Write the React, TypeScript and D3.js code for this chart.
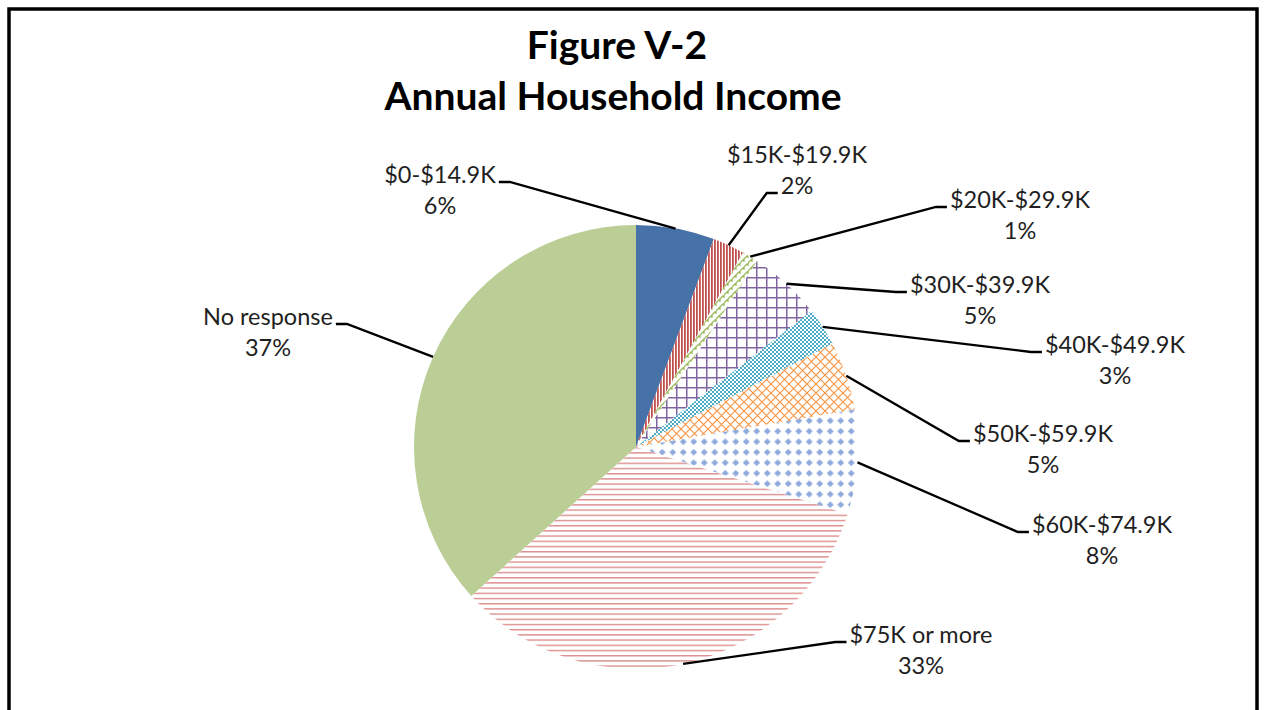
import React, { useEffect, useRef } from "react";
import * as d3 from "d3";

const categories = [
  "$0-$14.9K",
  "$15K-$19.9K",
  "$20K-$29.9K",
  "$30K-$39.9K",
  "$40K-$49.9K",
  "$50K-$59.9K",
  "$60K-$74.9K",
  "$75K or more",
  "No response",
];
const shares = [5.7, 2.3, 1.2, 5.3, 2.8, 5.0, 7.6, 33.4, 36.7];
const pctLabels = ["6%", "2%", "1%", "5%", "3%", "5%", "8%", "33%", "37%"];

// label placement: centre x, first baseline, side of the pie, leader attaches to 2nd line
const labelX = [440, 797, 1020, 980, 1115, 1043, 1102, 921, 268];
const labelY = [183, 163, 208, 293, 353, 442, 533, 643, 325];
const labelSide = ["left", "right", "right", "right", "right", "right", "right", "right", "left"];
const attachSecond = [false, true, false, false, false, false, false, false, false];

const fills = [
  "#4672A8",
  "url(#pVert)",
  "url(#pShingle)",
  "url(#pGrid)",
  "url(#pDots)",
  "url(#pCross)",
  "url(#pDiamond)",
  "url(#pHoriz)",
  "#BACE96",
];

const App: React.FC = () => {
  const svgRef = useRef<SVGSVGElement>(null);

  useEffect(() => {
    if (!svgRef.current) return;
    const width = 1264;
    const height = 710;
    const cx = 636;
    const cy = 447;
    const radius = 222;
    const font = "Lato, 'Open Sans', sans-serif";

    const svg = d3.select(svgRef.current).attr("width", width).attr("height", height);
    svg.selectAll("*").remove();

    const defs = svg.append("defs");
    const pat = (id: string, w: number, h: number) =>
      defs
        .append("pattern")
        .attr("id", id)
        .attr("patternUnits", "userSpaceOnUse")
        .attr("width", w)
        .attr("height", h);

    let p = pat("pVert", 3, 3);
    p.append("rect").attr("width", 3).attr("height", 3).attr("fill", "#fff");
    p.append("rect").attr("width", 1.8).attr("height", 3).attr("fill", "#C0504D");

    p = pat("pShingle", 8, 8);
    p.append("rect").attr("width", 8).attr("height", 8).attr("fill", "#fff");
    p.append("path")
      .attr("d", "M0,8 L8,0 M4,4 L4,7 M0,0 L0,3 M8,0 L8,3")
      .attr("stroke", "#9BBB59")
      .attr("stroke-width", 1.3)
      .attr("fill", "none");

    p = pat("pGrid", 10, 10);
    p.append("rect").attr("width", 10).attr("height", 10).attr("fill", "#fff");
    p.append("path")
      .attr("d", "M0,0.75 H10 M0.75,0 V10")
      .attr("stroke", "#8064A2")
      .attr("stroke-width", 1.5);

    p = pat("pDots", 4, 4);
    p.append("rect").attr("width", 4).attr("height", 4).attr("fill", "#fff");
    p.append("rect").attr("width", 2).attr("height", 2).attr("fill", "#4BACC6");
    p.append("rect").attr("x", 2).attr("y", 2).attr("width", 2).attr("height", 2).attr("fill", "#4BACC6");

    p = pat("pCross", 9, 9);
    p.append("rect").attr("width", 9).attr("height", 9).attr("fill", "#fff");
    p.append("path")
      .attr("d", "M0,0 L9,9 M9,0 L0,9")
      .attr("stroke", "#F79646")
      .attr("stroke-width", 1.2);

    p = pat("pDiamond", 10.5, 10.5);
    p.append("rect").attr("width", 10.5).attr("height", 10.5).attr("fill", "#fff");
    p.append("polygon")
      .attr("points", "5.25,1.8 8.7,5.25 5.25,8.7 1.8,5.25")
      .attr("fill", "#8EA9DB");

    p = pat("pHoriz", 5.2, 5.2);
    p.append("rect").attr("width", 5.2).attr("height", 5.2).attr("fill", "#fff");
    p.append("rect").attr("width", 5.2).attr("height", 1.4).attr("fill", "#DC8E8D");

    // frame
    svg
      .append("rect")
      .attr("x", 9)
      .attr("y", 9)
      .attr("width", 1248)
      .attr("height", 760)
      .attr("fill", "#fff")
      .attr("stroke", "#000")
      .attr("stroke-width", 3.5);

    // title
    const title = svg
      .append("text")
      .attr("text-anchor", "middle")
      .attr("font-family", font)
      .attr("font-weight", "bold")
      .attr("font-size", 39)
      .attr("fill", "#000");
    title.append("tspan").attr("x", 617).attr("y", 59).text("Figure V-2");
    title.append("tspan").attr("x", 613).attr("y", 110).text("Annual Household Income");

    const pie = d3
      .pie<number>()
      .sort(null)
      .value((d) => d)
      .startAngle(0)
      .endAngle(2 * Math.PI);
    const arcs = pie(shares);
    const arc = d3.arc<d3.PieArcDatum<number>>().innerRadius(0).outerRadius(radius);

    const g = svg.append("g").attr("transform", `translate(${cx},${cy})`);
    g.selectAll("path.slice")
      .data(arcs)
      .join("path")
      .attr("class", "slice")
      .attr("d", arc)
      .attr("fill", (_, i) => fills[i]);

    // labels and leader lines
    const lineGap = 31;
    arcs.forEach((a, i) => {
      const t = svg
        .append("text")
        .attr("text-anchor", "middle")
        .attr("font-family", font)
        .attr("font-size", 23.5)
        .attr("fill", "#1f1f1f");
      const t1 = t.append("tspan").attr("x", labelX[i]).attr("y", labelY[i]).text(categories[i]);
      const t2 = t
        .append("tspan")
        .attr("x", labelX[i])
        .attr("y", labelY[i] + lineGap)
        .text(pctLabels[i]);

      const ref = attachSecond[i] ? t2 : t1;
      const w = (ref.node() as SVGTSpanElement).getComputedTextLength();
      const by = (attachSecond[i] ? labelY[i] + lineGap : labelY[i]) - 1;
      const mid = (a.startAngle + a.endAngle) / 2;
      const ex = cx + radius * Math.sin(mid);
      const ey = cy - radius * Math.cos(mid);
      let near: number;
      let far: number;
      if (labelSide[i] === "right") {
        near = labelX[i] - w / 2 - 3;
        far = near - 11;
      } else {
        near = labelX[i] + w / 2 + 3;
        far = near + 11;
      }
      const path = d3.path();
      path.moveTo(ex, ey);
      path.lineTo(far, by);
      path.lineTo(near, by);
      svg
        .append("path")
        .attr("d", path.toString())
        .attr("fill", "none")
        .attr("stroke", "#000")
        .attr("stroke-width", 2.3);
    });
  }, []);

  return (
    <svg
      ref={svgRef}
      style={{ position: "absolute", left: 0, top: 0, display: "block" }}
    ></svg>
  );
};

export default App;
